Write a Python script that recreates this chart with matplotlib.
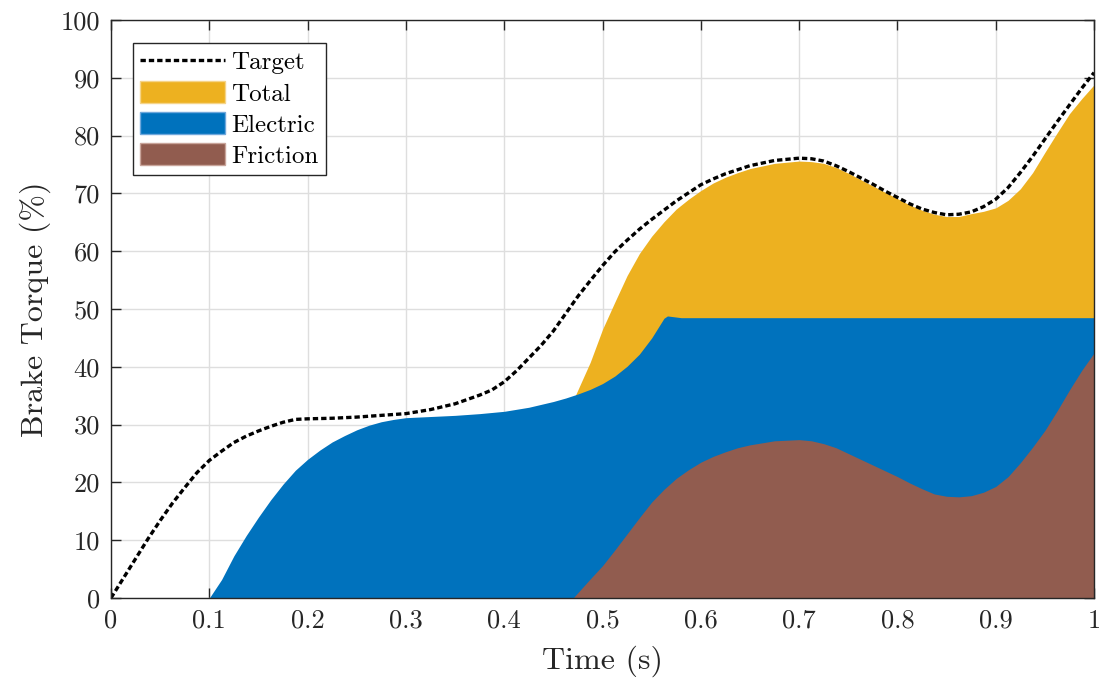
import numpy as np
import matplotlib.pyplot as plt
from matplotlib.patches import Patch
from matplotlib.lines import Line2D

plt.rcParams['font.family'] = 'cmr10'
plt.rcParams['axes.unicode_minus'] = False
plt.rcParams['mathtext.fontset'] = 'cm'

# Torque demand (%) versus time (s)
t_target = [0, .0125, .025, .0375, .05, .0625, .075, .0875, .1, .1125, .125, .1375, .15,
            .1625, .175, .1875, .2, .225, .25, .275, .3, .325, .35, .375, .3875, .4, .4125,
            .425, .4375, .45, .4625, .475, .4875, .5, .5125, .525, .5375, .55, .5625, .575,
            .5875, .6, .6125, .625, .6375, .65, .675, .7, .7125, .725, .7375, .75, .7625,
            .775, .7875, .8, .8125, .825, .8375, .85, .8625, .875, .8875, .9, .9125, .925,
            .9375, .95, .9625, .975, .9875, 1.0]
target = [0, 3.4, 6.8, 10.2, 13.4, 16.4, 19.1, 21.7, 23.8, 25.4, 26.9, 28.0, 28.9,
          29.7, 30.4, 30.9, 31.0, 31.1, 31.3, 31.6, 31.9, 32.6, 33.6, 35.1, 36.0, 37.4, 39.3,
          41.5, 43.7, 46.2, 49.2, 52.2, 54.9, 57.5, 59.9, 61.9, 63.8, 65.5, 67.1, 68.7,
          70.1, 71.5, 72.5, 73.4, 74.1, 74.8, 75.7, 76.1, 76.0, 75.6, 74.8, 73.8, 72.7,
          71.6, 70.4, 69.3, 68.2, 67.3, 66.7, 66.3, 66.4, 66.8, 67.7, 69.0, 71.0, 73.6,
          76.4, 79.4, 82.4, 85.3, 88.2, 90.9]

t_total = [.4725, .4875, .5, .5125, .525, .5375, .55, .5625, .575, .5875, .6, .6125, .625,
           .6375, .65, .675, .7, .7125, .725, .7375, .75, .7625, .775, .7875, .8, .8125,
           .825, .8375, .85, .8625, .875, .8875, .9, .9125, .925, .9375, .95, .9625, .975,
           .9875, 1.0]
total = [35.1, 40.8, 46.5, 51.2, 55.8, 59.6, 62.6, 65.1, 67.3, 69.0, 70.5, 71.8, 72.8,
         73.6, 74.3, 75.2, 75.6, 75.5, 75.2, 74.5, 73.5, 72.4, 71.3, 70.2, 69.1, 68.0,
         67.1, 66.4, 66.0, 66.0, 66.5, 66.9, 67.5, 68.8, 70.8, 73.6, 77.1, 80.5, 83.8,
         86.4, 88.8]

t_elec = [.1, .1125, .125, .1375, .15, .1625, .175, .1875, .2, .2125, .225, .2375, .25,
          .2625, .275, .2875, .3, .325, .35, .375, .4, .425, .45, .4625, .475, .4875, .5,
          .5125, .525, .5375, .55, .5625, .566, .58, 1.0]
electric = [0, 3.2, 7.3, 10.8, 14.0, 17.0, 19.7, 22.1, 24.0, 25.6, 27.0, 28.1, 29.1,
            29.9, 30.5, 30.9, 31.2, 31.4, 31.6, 31.9, 32.3, 33.0, 34.0, 34.6, 35.3, 36.1, 37.1,
            38.4, 40.1, 42.2, 45.0, 48.4, 48.8, 48.5, 48.5]

t_fric = [.47, .4875, .5, .5125, .525, .5375, .55, .5625, .575, .5875, .6, .6125, .625,
          .6375, .65, .675, .7, .7125, .725, .7375, .75, .7625, .775, .7875, .8, .8125,
          .825, .8375, .85, .8625, .875, .8875, .9, .9125, .925, .9375, .95, .9625, .975,
          .9875, 1.0]
friction = [0, 3.3, 5.6, 8.3, 11.1, 13.9, 16.6, 18.8, 20.7, 22.2, 23.5, 24.5, 25.3,
            26.0, 26.5, 27.2, 27.4, 27.2, 26.7, 26.0, 25.0, 24.0, 23.0, 22.0, 21.0, 19.9,
            18.9, 18.0, 17.6, 17.5, 17.7, 18.3, 19.3, 21.0, 23.4, 26.1, 29.0, 32.4, 36.0,
            39.4, 42.4]

c_total = '#EDB120'
c_elec = '#0072BD'
c_fric = '#915C4F'
c_axis = '#262626'
dash = (0, (1.6, 0.9))

fig = plt.figure(figsize=(10.99, 6.79), dpi=100)
ax = fig.add_axes([0.101, 0.1193, 0.8945, 0.8512])

ax.fill_between(t_total, 0, total, color=c_total, lw=0, zorder=2)
ax.fill_between(t_elec, 0, electric, color=c_elec, lw=0, zorder=3)
ax.fill_between(t_fric, 0, friction, color=c_fric, lw=0, zorder=4)
ax.plot(t_target, target, color='k', lw=2.4, ls=dash, zorder=5)

ax.set_xlim(0, 1)
ax.set_ylim(0, 100)
ax.set_xticks(np.arange(0, 1.01, 0.1))
ax.set_xticklabels(['0', '0.1', '0.2', '0.3', '0.4', '0.5', '0.6', '0.7', '0.8', '0.9', '1'])
ax.set_yticks(np.arange(0, 101, 10))
ax.grid(True, color='#dedede', lw=1.0, zorder=0)
ax.set_axisbelow(True)
for s in ax.spines.values():
    s.set_color(c_axis)
    s.set_linewidth(1.0)
    s.set_zorder(6)
ax.tick_params(direction='in', length=7, width=1.0, color=c_axis, labelcolor=c_axis,
               labelsize=19, top=True, right=True, pad=8)

ax.set_xlabel('Time (s)', fontsize=23, color=c_axis, labelpad=9)
ax.set_ylabel('Brake Torque (%)', fontsize=23, color=c_axis, labelpad=7)

handles = [Line2D([0], [0], color='k', lw=2.4, ls=dash),
           Patch(facecolor=c_total, edgecolor='#f5d488'),
           Patch(facecolor=c_elec, edgecolor='#6fa8dc'),
           Patch(facecolor=c_fric, edgecolor='#c9a49a')]
leg = ax.legend(handles, ['Target', 'Total', 'Electric', 'Friction'], loc='upper left',
                bbox_to_anchor=(0.022, 0.961), fontsize=18, fancybox=False, framealpha=1,
                edgecolor=c_axis, handlelength=3.4, handleheight=0.95, handletextpad=0.25,
                labelspacing=0.27, borderpad=0.3, borderaxespad=0.0)
leg.get_frame().set_linewidth(1.0)
leg.set_zorder(7)

fig.savefig('out.png', dpi=100)
